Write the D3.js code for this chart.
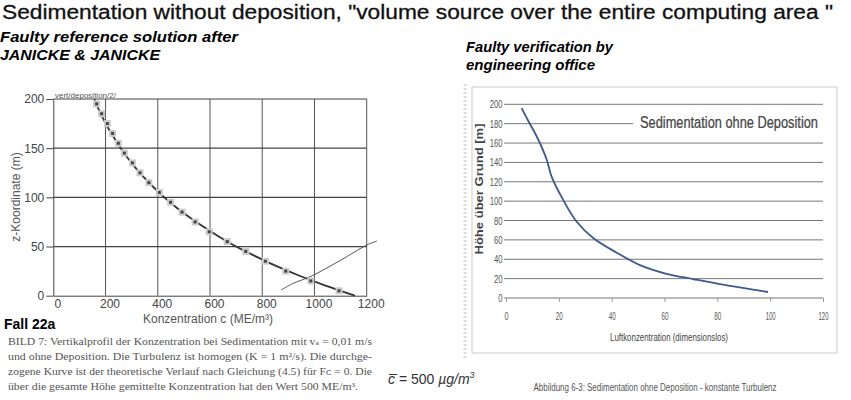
<!DOCTYPE html>
<meta charset="utf-8">
<style>
body { margin: 0; background: #fff; }
text { font-family: "Liberation Sans", Arial, sans-serif; }
.serif { font-family: "Liberation Serif", "DejaVu Serif", serif; }
.axL path, .axL line { stroke: #444; }
.axL text { fill: #444; font-size: 12px; }
.axR path { display: none; }
.axR line { stroke: #999; }
.axR text { fill: #555; font-size: 11px; }
</style>
<svg width="851" height="400"></svg>
<script src="https://d3js.org/d3.v7.min.js"></script>
<script>
// left chart: reference solution (Janicke)
var zTicksL = [0, 50, 100, 150, 200],
    cTicksL = [0, 200, 400, 600, 800, 1000, 1200];
var curveZ = [200, 190, 180, 170, 160, 150, 140, 130, 120, 110, 100, 90, 80, 70, 60, 50, 40, 30, 20, 10, 0],
    curveC = [157, 173, 191, 211, 234, 258, 285, 315, 348, 385, 425, 470, 520, 575, 635, 700, 775, 855, 945, 1045, 1155];
var pointZ = [195, 185, 175, 165, 155, 145, 135, 125, 115, 105, 95, 85, 75, 65, 55, 45, 35, 25, 15, 5],
    pointC = [166, 185, 207, 227, 249, 272, 303, 332, 366, 406, 449, 493, 543, 597, 666, 737, 812, 890, 986, 1094];
var crossC = [872, 919, 983, 1100, 1200, 1239],
    crossZ = [5.8, 12.6, 19.3, 36, 51.5, 55.6];

// right chart: engineering office
var hTicksR = [0, 20, 40, 60, 80, 100, 120, 140, 160, 180, 200],
    xTicksR = [0, 20, 40, 60, 80, 100, 120];
var officeX = [5.9, 8.4, 11.6, 15.4, 17.3, 21.7, 26.7, 33, 41.8, 50.7, 60.8, 70.8, 82.2, 93.5, 99.2],
    officeH = [196, 183, 167, 143, 125, 101, 79, 62, 47, 34, 25, 19.6, 13.7, 8.6, 6.2];

var svg = d3.select("svg");

svg.append("text").attr("x", 2).attr("y", 19).attr("font-size", 20).attr("fill", "#111")
    .attr("stroke", "#111").attr("stroke-width", 0.3)
    .attr("textLength", 831).attr("lengthAdjust", "spacingAndGlyphs")
    .text("Sedimentation without deposition, \"volume source over the entire computing area \"");

function sub(x, y, s, w) {
  svg.append("text").attr("x", x).attr("y", y)
      .attr("font-size", 15).attr("font-style", "italic").attr("font-weight", "bold")
      .attr("textLength", w).attr("lengthAdjust", "spacingAndGlyphs").text(s);
}
sub(0, 42, "Faulty reference solution after", 238);
sub(0, 60, "JANICKE & JANICKE", 160);
sub(466, 52, "Faulty verification by", 147);
sub(466, 70, "engineering office", 129);

// ---- left chart
var xL = d3.scaleLinear().domain([0, 1200]).range([53.3, 366.7]),
    yL = d3.scaleLinear().domain([0, 200]).range([295.7, 99]);
var gL = svg.append("g");

gL.append("g").selectAll("line").data(cTicksL.slice(1)).enter().append("line")
    .attr("x1", xL).attr("x2", xL).attr("y1", yL(0)).attr("y2", yL(200))
    .attr("stroke", "#555").attr("stroke-width", 1);
gL.append("g").selectAll("line").data(zTicksL.slice(1)).enter().append("line")
    .attr("x1", xL(0)).attr("x2", xL(1200)).attr("y1", yL).attr("y2", yL)
    .attr("stroke", "#444").attr("stroke-width", 1.2);

gL.append("g").attr("class", "axL").attr("transform", "translate(0," + yL(0) + ")")
    .call(d3.axisBottom(xL).tickValues(cTicksL).tickFormat(d3.format("d"))
      .tickSize(0).tickPadding(4).tickSizeOuter(0))
  .selectAll("text").attr("dx", 4);
gL.append("g").attr("class", "axL").attr("transform", "translate(" + xL(0) + ",0)")
    .call(d3.axisLeft(yL).tickValues(zTicksL).tickSize(7).tickPadding(2).tickSizeOuter(0))
  .selectAll("text").attr("font-size", 13);

gL.append("text").attr("x", 55).attr("y", 98).attr("font-size", 8).attr("fill", "#555")
    .text("vert/deposition/2/");

var lineL = d3.line().curve(d3.curveCatmullRom)
    .x(function(d, i) { return xL(curveC[i]); })
    .y(function(d) { return yL(d); });
gL.append("path").attr("d", lineL(curveZ)).attr("fill", "none")
    .attr("stroke", "#333").attr("stroke-width", 1.8);

var crossLine = d3.line().curve(d3.curveCatmullRom)
    .x(function(d, i) { return xL(crossC[i]); })
    .y(function(d) { return yL(d); });
gL.append("path").attr("d", crossLine(crossZ)).attr("fill", "none")
    .attr("stroke", "#555").attr("stroke-width", 1);

var pts = gL.append("g").selectAll("g").data(pointZ).enter().append("g")
    .attr("transform", function(d, i) { return "translate(" + xL(pointC[i]) + "," + yL(d) + ")"; });
pts.append("rect").attr("x", -3.5).attr("y", -3.5).attr("width", 7).attr("height", 7).attr("fill", "#ccc");
pts.append("rect").attr("x", -1.5).attr("y", -1.5).attr("width", 3).attr("height", 3).attr("fill", "#444");

gL.append("text").attr("x", 20).attr("y", 197).attr("font-size", 12).attr("fill", "#555")
    .attr("text-anchor", "middle").attr("transform", "rotate(-90,20,197)")
    .text("z-Koordinate (m)");
gL.append("text").attr("x", 208).attr("y", 323).attr("font-size", 12).attr("fill", "#555")
    .attr("text-anchor", "middle").text("Konzentration c (ME/m\u00b3)");
gL.append("text").attr("x", 4).attr("y", 329).attr("font-size", 14).attr("font-weight", "bold")
    .text("Fall 22a");

var caption = [
  "BILD 7: Vertikalprofil der Konzentration bei Sedimentation mit v\u209b = 0,01 m/s",
  "und ohne Deposition. Die Turbulenz ist homogen (K = 1 m\u00b2/s). Die durchge-",
  "zogene Kurve ist der theoretische Verlauf nach Gleichung (4.5) f\u00fcr F\u1d04 = 0. Die",
  "\u00fcber die gesamte H\u00f6he gemittelte Konzentration hat den Wert 500 ME/m\u00b3."
];
gL.append("g").selectAll("text").data(caption).enter().append("text")
    .attr("class", "serif").attr("x", 8).attr("y", function(d, i) { return 345 + i * 15; })
    .attr("font-size", 11).attr("fill", "#555")
    .attr("textLength", function(d, i) { return i == 3 ? 350 : 364; })
    .attr("lengthAdjust", "spacingAndGlyphs").text(function(d) { return d; });

var cbar = svg.append("text").attr("x", 388).attr("y", 384).attr("font-size", 14).attr("fill", "#333");
cbar.append("tspan").attr("font-style", "italic").text("c\u0305");
cbar.append("tspan").text(" = 500 ");
cbar.append("tspan").attr("font-style", "italic").text("\u00b5g/m");
cbar.append("tspan").attr("font-style", "italic").attr("dy", -6).attr("font-size", 9).text("3");

// ---- right chart
var xR = d3.scaleLinear().domain([0, 120]).range([506, 823]),
    yR = d3.scaleLinear().domain([0, 200]).range([298, 104.3]);
var gR = svg.append("g");

gR.append("rect").attr("x", 472).attr("y", 87).attr("width", 365).attr("height", 266)
    .attr("fill", "none").attr("stroke", "#ccc").attr("stroke-width", 1);
gR.append("line").attr("x1", 465).attr("x2", 465).attr("y1", 84).attr("y2", 360)
    .attr("stroke", "#ddd").attr("stroke-width", 3).attr("stroke-dasharray", "2,2");

gR.append("g").selectAll("line").data(hTicksR).enter().append("line")
    .attr("x1", xR(0) - 2).attr("x2", function(d) { return d == 180 ? 633 : xR(120); })
    .attr("y1", yR).attr("y2", yR)
    .attr("stroke", "#777").attr("stroke-width", 1);

gR.append("g").attr("class", "axR").attr("transform", "translate(" + xR(0) + ",0)")
    .call(d3.axisLeft(yR).tickValues(hTicksR).tickSize(0).tickPadding(5))
  .selectAll("text").attr("transform", "scale(0.7,1)");
gR.append("g").attr("class", "axR").attr("transform", "translate(0," + yR(0) + ")")
    .call(d3.axisBottom(xR).tickValues(xTicksR).tickSize(4).tickPadding(10))
  .selectAll("text").attr("font-size", 12)
    .attr("textLength", function(d) { return d >= 100 ? 10 : d > 0 ? 7 : 4; })
    .attr("lengthAdjust", "spacingAndGlyphs");

gR.append("text").attr("transform", "translate(640,128) scale(1,1.2)").attr("font-size", 13.5)
    .attr("fill", "#444").attr("stroke", "#444").attr("stroke-width", 0.2)
    .attr("textLength", 178).attr("lengthAdjust", "spacingAndGlyphs")
    .text("Sedimentation ohne Deposition");

var lineR = d3.line().curve(d3.curveCatmullRom)
    .x(function(d) { return xR(d); })
    .y(function(d, i) { return yR(officeH[i]); });
gR.append("path").attr("d", lineR(officeX)).attr("fill", "none")
    .attr("stroke", "#3d5a8a").attr("stroke-width", 1.8);

gR.append("text").attr("x", 483).attr("y", 189)
    .attr("transform", "rotate(-90,483,189)").attr("text-anchor", "middle")
    .attr("font-size", 10).attr("font-weight", "bold").attr("fill", "#444")
    .attr("textLength", 131).attr("lengthAdjust", "spacingAndGlyphs")
    .text("H\u00f6he \u00fcber Grund [m]");
gR.append("text").attr("x", 669).attr("y", 341).attr("text-anchor", "middle")
    .attr("font-size", 11).attr("fill", "#444").attr("textLength", 118).attr("lengthAdjust", "spacingAndGlyphs")
    .text("Luftkonzentration (dimensionslos)");
gR.append("text").attr("x", 655).attr("y", 391).attr("text-anchor", "middle")
    .attr("font-size", 10).attr("fill", "#555").attr("textLength", 243).attr("lengthAdjust", "spacingAndGlyphs")
    .text("Abbildung 6-3: Sedimentation ohne Deposition - konstante Turbulenz");
</script>
